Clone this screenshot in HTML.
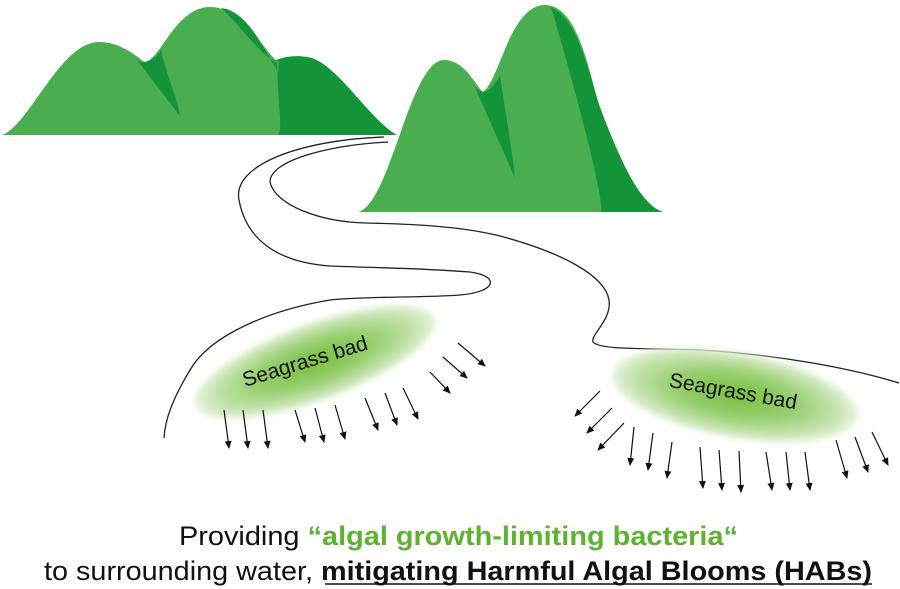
<!DOCTYPE html>
<html><head><meta charset="utf-8"><style>
html,body{margin:0;padding:0;background:#fff;}
svg{display:block;}
</style></head><body>
<svg width="900" height="589" viewBox="0 0 900 589" xmlns="http://www.w3.org/2000/svg">
<defs>
<radialGradient id="g1" cx="50%" cy="50%" r="50%">
<stop offset="0" stop-color="#78c03e"/>
<stop offset="0.5" stop-color="#98cf70"/>
<stop offset="0.85" stop-color="#c9e5b3"/>
<stop offset="1" stop-color="#eaf5e2"/>
</radialGradient>
<filter id="soft" x="-10%" y="-20%" width="120%" height="140%"><feGaussianBlur stdDeviation="3"/></filter>
<marker id="ah" markerWidth="8" markerHeight="8" refX="7" refY="4" orient="auto" markerUnits="userSpaceOnUse">
<path d="M0,0.5 L8,4 L0,7.5 Z" fill="#111"/>
</marker>
</defs>
<!-- left mountains -->
<path d="M272,62 C285,55 300,55 312,58 C340,68 370,120 397,135 L270,135 Z" fill="#149438"/>
<path d="M2,135 C30,125 60,42 99,42 C120,42 135,55 144,62 C160,62 175,7 210,7 C245,7 265,55 279,62 C275,100 285,130 279,135 Z" fill="#4aae50"/>
<path d="M221,8 C240,25 260,55 277,63 C278,100 283,130 278,135 L284,135 C292,115 285,80 272,62 C255,30 240,10 221,8 Z" fill="#149438"/>
<path d="M137,60 C145,65 155,60 161,50 C168,80 178,100 180,116 Z" fill="#149438"/>
<!-- right mountain -->
<path d="M358,212 C390,205 410,60 444,60 C465,60 475,85 483,92 C500,80 510,5 545,5 C580,5 590,80 601,110 C620,160 640,205 663,212 Z" fill="#4aae50"/>
<path d="M551,7 C570,70 605,200 601,212 L663,212 C640,205 620,160 601,110 C590,80 580,20 551,7 Z" fill="#149438"/>
<path d="M474,85 C480,95 490,95 500,75 C505,110 512,150 515,178 Z" fill="#149438"/>
<!-- river -->
<path d="M384,137 C300,140 232,165 239,200 C246,238 275,262 330,266 C380,268 420,268 470,272 C500,276 497,292 460,295 C420,298 370,296 330,300 C270,310 210,335 190,370 C172,400 165,420 164,438" fill="none" stroke="#222" stroke-width="1.3"/>
<path d="M388,142 C330,145 270,160 270,182 C275,205 320,222 366,223 C410,224 460,226 500,236 C560,252 605,275 609,300 C612,320 590,335 593,342 C600,350 640,348 700,350 C780,355 850,368 899,383" fill="none" stroke="#222" stroke-width="1.3"/>
<!-- seagrass beds -->
<ellipse cx="315" cy="362" rx="128" ry="39" transform="rotate(-20 315 362)" fill="url(#g1)" filter="url(#soft)"/>
<ellipse cx="735" cy="395" rx="125" ry="43" transform="rotate(10 735 395)" fill="url(#g1)" filter="url(#soft)"/>
<text x="307" y="368" font-family="Liberation Sans, sans-serif" font-size="21" fill="#111" text-anchor="middle" transform="rotate(-17 307 368)">Seagrass bad</text>
<text x="732" y="398" font-family="Liberation Sans, sans-serif" font-size="21" fill="#111" text-anchor="middle" transform="rotate(10 732 398)">Seagrass bad</text>
<!-- arrows -->
<g stroke="#111" stroke-width="1.2" marker-end="url(#ah)">
<line x1="224" y1="410" x2="229" y2="448"/><line x1="243" y1="410" x2="248" y2="448"/><line x1="263" y1="410" x2="268" y2="448"/>
<line x1="295" y1="410" x2="305" y2="442"/><line x1="315" y1="408" x2="324" y2="442"/><line x1="335" y1="405" x2="345" y2="439"/>
<line x1="365" y1="398" x2="378" y2="430"/><line x1="385" y1="393" x2="397" y2="425"/><line x1="403" y1="388" x2="418" y2="419"/>
<line x1="430" y1="372" x2="450" y2="393"/><line x1="443" y1="357" x2="467" y2="378"/><line x1="458" y1="343" x2="485" y2="366"/>
<line x1="600" y1="391" x2="575" y2="416"/><line x1="612" y1="408" x2="587" y2="433"/><line x1="624" y1="423" x2="598" y2="450"/>
<line x1="634" y1="427" x2="630" y2="465"/><line x1="653" y1="433" x2="648" y2="470"/><line x1="672" y1="442" x2="667" y2="478"/>
<line x1="700" y1="447" x2="703" y2="488"/><line x1="719" y1="450" x2="722" y2="490"/><line x1="739" y1="451" x2="741" y2="492"/>
<line x1="766" y1="452" x2="772" y2="490"/><line x1="786" y1="452" x2="790" y2="490"/><line x1="805" y1="452" x2="810" y2="490"/>
<line x1="836" y1="440" x2="847" y2="478"/><line x1="855" y1="437" x2="868" y2="472"/><line x1="872" y1="432" x2="888" y2="465"/>
</g>
<!-- caption -->
<text x="179" y="545" font-family="Liberation Sans, sans-serif" font-size="27" fill="#111" textLength="559" lengthAdjust="spacingAndGlyphs">Providing <tspan fill="#5db32f" font-weight="bold">“algal growth-limiting bacteria“</tspan></text>
<text x="44" y="580" font-family="Liberation Sans, sans-serif" font-size="27" fill="#111" textLength="828" lengthAdjust="spacingAndGlyphs">to surrounding water, <tspan font-weight="bold">mitigating Harmful Algal Blooms (HABs)</tspan></text>
<line x1="325" y1="584" x2="872" y2="584" stroke="#111" stroke-width="1.5"/>
</svg>
</body></html>
